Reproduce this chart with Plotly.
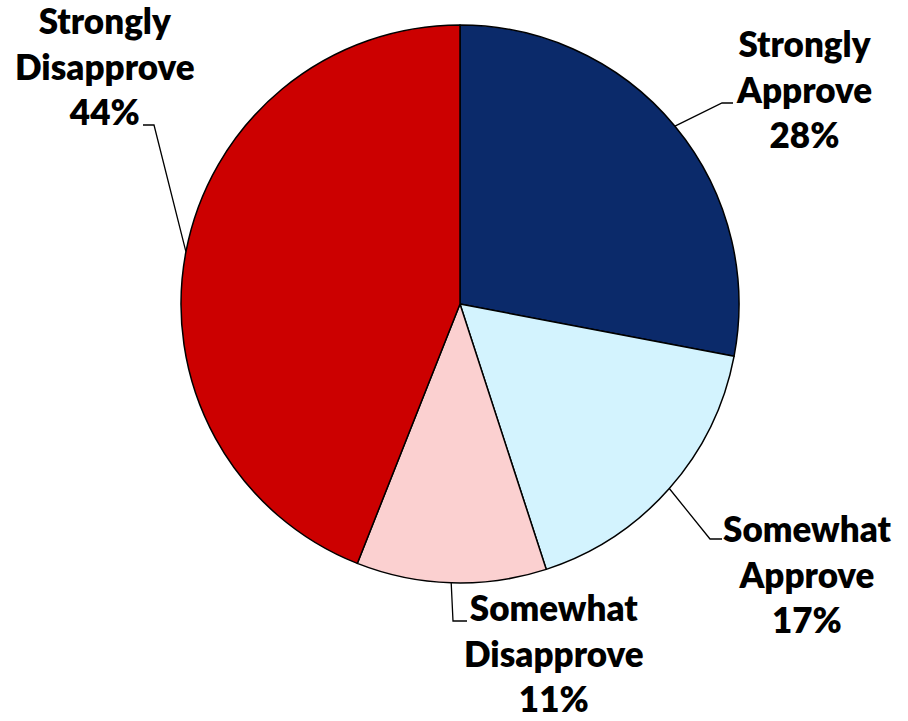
import math
import plotly.graph_objects as go

# ---- data ----
categories = ["Strongly Approve", "Somewhat Approve", "Somewhat Disapprove", "Strongly Disapprove"]
values = [28, 17, 11, 44]
label_lines = [["Strongly", "Approve"], ["Somewhat", "Approve"], ["Somewhat", "Disapprove"], ["Strongly", "Disapprove"]]
colors = ["#0B2A6A", "#D3F3FE", "#FBD0D0", "#CC0000"]

# ---- layout (pixels) ----
W, H = 908, 721
CX, CY, R = 460, 304, 279
# label block centers and leader elbow/end points (pixels)
label_pos = [(804, 88), (807, 573), (554, 652), (105, 65)]
elbows = [((722, 103), (733, 103)), ((710, 539), (722, 539)), ((453, 621), (467, 621)), ((154, 125), (143, 125))]

fig = go.Figure()
fig.add_trace(go.Pie(
    labels=categories, values=values, sort=False, direction="clockwise", rotation=0,
    marker=dict(colors=colors, line=dict(color="#000000", width=1.5)),
    textinfo="none", hoverinfo="label+percent", showlegend=False,
    domain=dict(x=[(CX - R) / W, (CX + R) / W], y=[(H - CY - R) / H, (H - CY + R) / H]),
))

total = sum(values)
cum = 0
shapes = []
annotations = []
for i, v in enumerate(values):
    mid = (cum + v / 2) / total * 2 * math.pi
    cum += v
    ex, ey = CX + R * math.sin(mid), CY - R * math.cos(mid)
    (bx, by), (tx, ty) = elbows[i]
    shapes.append(dict(type="path", xref="x", yref="y",
                       path=f"M {ex:.1f},{ey:.1f} L {bx},{by} L {tx},{ty}",
                       line=dict(color="#000000", width=1.3)))
    lx, ly = label_pos[i]
    annotations.append(dict(x=lx, y=ly, xref="x", yref="y", showarrow=False,
                            text="<br>".join(label_lines[i] + [f"{v}%"]),
                            align="center", xanchor="center", yanchor="middle",
                            font=dict(family="Lato", size=35, color="#000000", weight=800)))

fig.update_layout(
    width=W, height=H, margin=dict(l=0, r=0, t=0, b=0),
    paper_bgcolor="white", plot_bgcolor="rgba(0,0,0,0)",
    xaxis=dict(range=[0, W], visible=False, fixedrange=True, domain=[0, 1]),
    yaxis=dict(range=[H, 0], visible=False, fixedrange=True, domain=[0, 1]),
    shapes=shapes, annotations=annotations,
)
fig.write_html("out.html", config={"displayModeBar": False},
               post_script="document.body.style.margin='0';document.body.style.overflow='hidden';")
